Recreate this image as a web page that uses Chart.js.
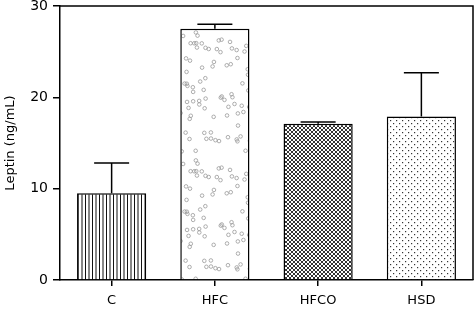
<!DOCTYPE html>
<html>
<head>
<meta charset="utf-8">
<script src="https://cdn.jsdelivr.net/npm/chart.js@4"></script>
<style>
  html, body { margin: 0; padding: 0; background: #fff; }
  #wrap { width: 475px; height: 312px; }
</style>
</head>
<body>
<div id="wrap"><canvas id="chart" width="475" height="312"></canvas></div>
<script>
const groups = ['C', 'HFC', 'HFCO', 'HSD'];
const leptin = [9.5, 27.5, 17.1, 17.9];
const leptinErr = [3.3, 0.5, 0.2, 4.8];
const yTicks = [0, 10, 20, 30];

const makeTile = (w, h, draw) => {
    const c = document.createElement('canvas');
    c.width = w;
    c.height = h;
    const g = c.getContext('2d');
    g.fillStyle = '#fff';
    g.fillRect(0, 0, w, h);
    draw(g);
    return g.createPattern(c, 'repeat');
};

// vertical stripes
const stripes = makeTile(7, 7, (g) => {
    g.fillStyle = '#111';
    g.fillRect(1, 0, 1, 7);
    g.fillRect(4.5, 0, 1, 7);
});

// scattered small rings (fixed seed, texture only)
const rings = makeTile(72, 128, (g) => {
    let s = 11;
    const next = () => { s = (s * 9301 + 49297) % 233280; return s / 233280; };
    g.strokeStyle = '#999';
    g.lineWidth = 0.8;
    for (let i = 0; i < 80; i++) {
        const x = next() * 72, y = next() * 128;
        for (const dx of [-72, 0, 72]) {
            for (const dy of [-128, 0, 128]) {
                g.beginPath();
                g.arc(x + dx, y + dy, 1.8, 0, Math.PI * 2);
                g.stroke();
            }
        }
    }
});

// dark cross hatch
const hatch = makeTile(4, 4, (g) => {
    g.strokeStyle = '#333';
    g.lineWidth = 1;
    g.beginPath();
    g.moveTo(0, 0); g.lineTo(4, 4);
    g.moveTo(4, 0); g.lineTo(0, 4);
    g.stroke();
});

// staggered dots
const dots = makeTile(6, 6, (g) => {
    g.fillStyle = '#333';
    g.fillRect(0, 0, 1.2, 1.2);
    g.fillRect(3, 3, 1.2, 1.2);
});

const errorBars = {
    id: 'errorBars',
    afterDatasetsDraw(chart) {
        const { ctx, scales } = chart;
        const meta = chart.getDatasetMeta(0);
        ctx.save();
        ctx.strokeStyle = '#000';
        ctx.lineWidth = 1.5;
        meta.data.forEach((bar, i) => {
            const top = scales.y.getPixelForValue(leptin[i] + leptinErr[i]);
            ctx.beginPath();
            ctx.moveTo(bar.x, bar.y);
            ctx.lineTo(bar.x, top);
            ctx.moveTo(bar.x - 17.5, top);
            ctx.lineTo(bar.x + 17.5, top);
            ctx.stroke();
        });
        ctx.restore();
    }
};

const frame = {
    id: 'frame',
    afterDraw(chart) {
        const { ctx, chartArea: a } = chart;
        ctx.save();
        ctx.strokeStyle = '#000';
        ctx.lineWidth = 1.5;
        ctx.beginPath();
        ctx.moveTo(a.left, a.top);
        ctx.lineTo(a.right, a.top);
        ctx.lineTo(a.right, a.bottom);
        ctx.stroke();
        ctx.restore();
    }
};

Chart.defaults.font.family = "'DejaVu Sans', sans-serif";
Chart.defaults.color = '#000';

new Chart(document.getElementById('chart').getContext('2d'), {
    type: 'bar',
    data: {
        labels: groups,
        datasets: [{
            data: leptin,
            backgroundColor: [stripes, rings, hatch, dots],
            borderColor: '#000',
            borderWidth: 1.5,
            borderSkipped: 'bottom',
            categoryPercentage: 1,
            barPercentage: 0.67
        }]
    },
    options: {
        responsive: false,
        animation: false,
        layout: { padding: { top: 6, right: 2, left: 0, bottom: 0 } },
        plugins: { legend: { display: false }, tooltip: { enabled: false } },
        scales: {
            x: {
                grid: { display: true, drawOnChartArea: false, drawTicks: true, tickLength: 6, color: '#000', lineWidth: 1.5, offset: false },
                border: { color: '#000', width: 1.5 },
                ticks: { font: { size: 13 }, padding: 7 },
                afterFit(s) { s.height = 32; s.paddingLeft = 0; s.paddingRight = 0; }
            },
            y: {
                min: 0,
                max: 30,
                afterBuildTicks(s) { s.ticks = yTicks.map(v => ({ value: v })); },
                grid: { display: true, drawOnChartArea: false, drawTicks: true, tickLength: 7, color: '#000', lineWidth: 1.5 },
                border: { color: '#000', width: 1.5 },
                ticks: { font: { size: 14 }, padding: 5 },
                title: { display: true, text: 'Leptin (ng/mL)', font: { size: 13 }, padding: { top: 3, bottom: 0 } },
                afterFit(s) { s.width = 60; s.paddingTop = 0; s.paddingBottom = 0; }
            }
        }
    },
    plugins: [errorBars, frame]
});
</script>
</body>
</html>
